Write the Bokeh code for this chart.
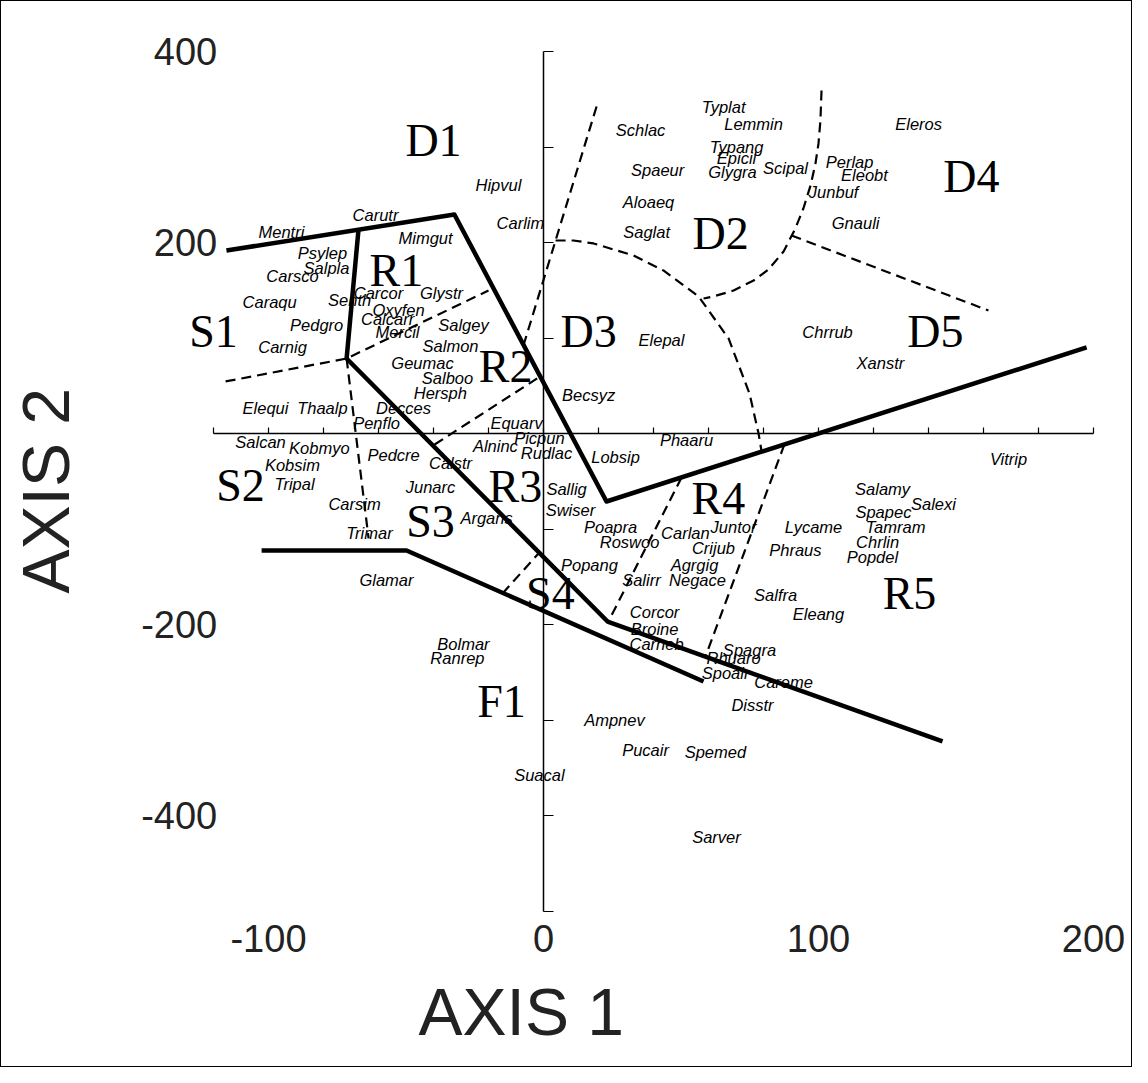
from bokeh.plotting import figure
from bokeh.models import LinearAxis, FixedTicker, Title, ColumnDataSource, Range1d
from bokeh.core.properties import value
from bokeh.embed import file_html
from bokeh.resources import INLINE

# ---------------- data ----------------
species = ["Mentri", "Carutr", "Mimgut", "Hipvul", "Carlim", "Psylep", "Salpla", "Carsco",
           "Caraqu", "Senth", "Carcor", "Glystr", "Oxyfen", "Calcarr", "Pedgro", "Salgey",
           "Mercil", "Carnig", "Salmon", "Geumac", "Salboo", "Hersph", "Elequi", "Thaalp",
           "Decces", "Penflo", "Equarv", "Salcan", "Kobmyo", "Kobsim", "Pedcre", "Calstr",
           "Alninc", "Picpun", "Rudlac", "Lobsip", "Phaaru", "Vitrip", "Tripal", "Carsim",
           "Junarc", "Argans", "Trimar", "Glamar", "Sallig", "Swiser", "Poapra", "Roswoo",
           "Carlan", "Juntor", "Crijub", "Lycame", "Phraus", "Salamy", "Spapec", "Salexi",
           "Tamram", "Chrlin", "Popdel", "Popang", "Agrgig", "Salirr", "Negace", "Corcor",
           "Broine", "Carneb", "Salfra", "Eleang", "Spagra", "Rhuaro", "Spoair", "Careme",
           "Disstr", "Bolmar", "Ranrep", "Ampnev", "Pucair", "Spemed", "Suacal", "Sarver",
           "Schlac", "Typlat", "Lemmin", "Eleros", "Typang", "Epicil", "Glygra", "Scipal",
           "Spaeur", "Perlap", "Eleobt", "Junbuf", "Aloaeq", "Gnauli", "Saglat", "Elepal",
           "Chrrub", "Xanstr", "Becsyz"]
axis1 = [-95.3, -61.1, -42.9, -16.4, -8.4, -80.4, -78.9, -91.3,
         -99.6, -70.5, -60.0, -37.1, -52.7, -56.7, -82.5, -29.1,
         -53.1, -94.9, -33.8, -44.0, -34.9, -37.5, -101.1, -80.4,
         -50.9, -60.7, -9.8, -102.9, -81.5, -91.3, -54.5, -33.8,
         -17.5, -1.5, 1.1, 26.2, 52.0, 169.1, -90.5, -68.7,
         -41.1, -20.7, -63.3, -57.1, 8.4, 9.8, 24.4, 31.3,
         51.6, 69.1, 61.8, 98.2, 91.6, 123.3, 123.6, 141.8,
         128.0, 121.5, 119.6, 16.7, 54.9, 35.6, 56.0, 40.4,
         40.4, 41.1, 84.4, 100.0, 74.9, 69.1, 66.2, 87.3,
         76.0, -29.1, -31.3, 25.8, 37.1, 62.5, -1.5, 62.9,
         35.3, 65.5, 76.4, 136.4, 70.2, 70.2, 68.7, 88.0,
         41.5, 111.3, 116.7, 105.5, 38.2, 113.5, 37.5, 42.9,
         103.3, 122.5, 16.4]
axis2 = [211.5, 229.3, 204.2, 260.7, 219.9, 188.5, 172.8, 164.4,
         138.2, 139.3, 146.6, 146.6, 129.8, 120.4, 114.1, 113.1,
         105.8, 90.1, 91.1, 74.3, 58.6, 42.9, 26.2, 26.2,
         26.2, 10.5, 10.5, -9.4, -15.7, -33.5, -23.0, -31.4,
         -12.6, -5.2, -20.9, -24.1, -6.3, -26.2, -53.4, -73.3,
         -56.5, -89.0, -104.7, -152.9, -57.6, -80.6, -98.4, -114.1,
         -104.7, -97.4, -120.4, -97.4, -122.5, -57.6, -81.7, -73.3,
         -97.4, -114.1, -129.8, -138.2, -138.2, -152.9, -152.9, -187.4,
         -204.2, -219.9, -169.6, -188.5, -227.2, -235.6, -251.3, -260.7,
         -283.8, -219.9, -235.6, -300.5, -331.9, -333.0, -358.1, -422.0,
         318.3, 341.4, 324.6, 324.6, 300.5, 288.0, 274.3, 277.5,
         275.4, 283.8, 270.2, 253.4, 242.9, 219.9, 211.5, 98.4,
         105.8, 74.3, 40.8]

groups = ["D1", "R1", "S1", "R2", "D3", "D2", "D4", "D5", "S2", "S3", "R3", "R4", "S4", "R5", "F1"]
group_x = [-40.0, -53.5, -120.0, -13.8, 16.4, 64.4, 155.6, 142.5, -110.2, -41.1, -10.2, 63.6, 2.5, 133.1, -15.3]
group_y = [306.8, 170.7, 106.8, 70.2, 106.8, 209.4, 269.1, 106.8, -54.5, -92.1, -55.5, -68.1, -167.5, -167.5, -280.6]

# solid boundaries
solid_x = [[-115.3, -32.4, 22.9, 197.5],
           [-67.3, -71.6, 23.3, 145.1],
           [-102.5, -49.8, 58.2]]
solid_y = [[191.6, 229.3, -71.2, 90.1],
           [212.6, 78.5, -196.9, -322.5],
           [-122.5, -122.5, -259.7]]

# dashed boundaries
dashed_x = [[-115.6, -71.6, -20.0],
            [-71.6, -63.6],
            [-39.6, -1.8],
            [19.3, -7.3],
            [4.4, 10.9, 18.2, 32.7, 43.6, 56.4, 67.3, 74.9, 78.2, 79.3],
            [101.1, 100.7, 100.0, 98.9, 97.1, 94.5, 91.6, 87.3, 81.8, 76.4, 69.1, 61.8, 58.2],
            [90.2, 161.8],
            [50.2, 23.6],
            [87.6, 58.9],
            [-14.9, -1.5]]
dashed_y = [[54.5, 78.5, 149.7],
            [78.5, -109.9],
            [-11.5, 58.6],
            [342.4, 92.1],
            [202.1, 202.1, 199.0, 186.4, 170.7, 143.5, 99.5, 41.9, 0.0, -18.8],
            [359.2, 327.7, 303.7, 282.7, 259.7, 235.6, 214.7, 190.6, 171.7, 160.2, 149.7, 143.5, 141.4],
            [207.3, 128.8],
            [-46.1, -196.9],
            [-11.5, -233.5],
            [-167.5, -124.6]]

x_axis_ticks = list(range(-120, 201, 20))
y_axis_ticks = list(range(-500, 401, 100))
x_tick_labels = [-100, 0, 100, 200]
y_tick_labels = [-400, -200, 200, 400]

# ---------------- figure ----------------
PXX, PXY = 2.75, 0.955          # pixels per data unit
FL, FR, FT, FB = 90, 1140, 8, 975   # frame edges on the page
OX, OY = 550, 440               # page position of the origin

p = figure(width=1132, height=1067,
           x_range=Range1d((FL - OX) / PXX, (FR - OX) / PXX),
           y_range=Range1d((OY - FB) / PXY, (OY - FT) / PXY),
           x_axis_type=None, y_axis_type=None,
           output_backend="svg", toolbar_location=None,
           min_border_left=FL - 8, min_border_right=0,
           min_border_top=0, min_border_bottom=1075 - FB)
p.outline_line_color = None
p.background_fill_color = "white"
p.border_fill_color = "white"
p.styles = {"border": "1.5px solid black"}

# cross axes through the origin
xa = LinearAxis(fixed_location=0, bounds=(-120, 200),
                ticker=FixedTicker(ticks=x_axis_ticks),
                major_tick_in=6, major_tick_out=0,
                minor_tick_line_color=None,
                major_label_text_color=None, major_label_text_font_size="1px",
                axis_line_width=1.5, major_tick_line_width=1.2)
p.add_layout(xa, "below")
ya = LinearAxis(fixed_location=0, bounds=(-500, 400),
                ticker=FixedTicker(ticks=y_axis_ticks),
                major_tick_in=10, major_tick_out=0,
                minor_tick_line_color=None,
                major_label_text_color=None, major_label_text_font_size="1px",
                axis_line_width=1.5, major_tick_line_width=1.2)
p.add_layout(ya, "left")

# tick labels
xl = LinearAxis(fixed_location=-500, ticker=FixedTicker(ticks=x_tick_labels),
                axis_line_color=None, major_tick_line_color=None, minor_tick_line_color=None,
                major_label_standoff=8, major_label_text_font_size="38px",
                major_label_text_font="Liberation Sans", major_label_text_color="#222222",
                major_label_overrides={v: str(v) for v in x_tick_labels})
p.add_layout(xl, "below")
yl = LinearAxis(fixed_location=-115, ticker=FixedTicker(ticks=y_tick_labels),
                axis_line_color=None, major_tick_line_color=None, minor_tick_line_color=None,
                major_label_standoff=4, major_label_text_font_size="38px",
                major_label_text_font="Liberation Sans", major_label_text_color="#222222",
                major_label_overrides={v: str(v) for v in y_tick_labels})
p.add_layout(yl, "left")

# axis titles
p.add_layout(Title(text="AXIS 1", align="left", offset=425 - FL, text_font_size="66px",
                   text_font="Liberation Sans", text_font_style="normal",
                   text_color="#222222", standoff=8), "below")
p.add_layout(Title(text="AXIS 2", align="left", offset=FB - 600, text_font_size="66px",
                   text_font="Liberation Sans", text_font_style="normal",
                   text_color="#222222", standoff=2), "left")

# boundaries
p.multi_line(xs=solid_x, ys=solid_y, line_color="black", line_width=4.5, line_join="round")
p.multi_line(xs=dashed_x, ys=dashed_y, line_color="black", line_width=2.2, line_dash="10 6")

# species labels
src = ColumnDataSource(dict(x=axis1, y=axis2, t=species))
p.text(x="x", y="y", text="t", source=src, text_font=value("Liberation Sans"),
       text_font_style="italic", text_font_size="16.5px", text_align="center",
       text_baseline="middle", text_color="black")

# group labels
gsrc = ColumnDataSource(dict(x=group_x, y=group_y, t=groups))
p.text(x="x", y="y", text="t", source=gsrc, text_font=value("Liberation Serif"),
       text_font_size="46px", text_align="center", text_baseline="middle",
       text_color="black")

open("out.html", "w").write(file_html(p, INLINE))
